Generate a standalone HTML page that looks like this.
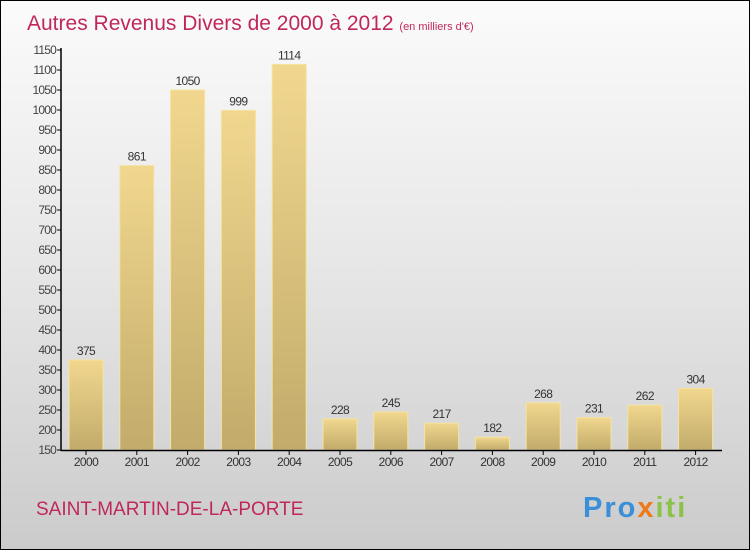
<!DOCTYPE html>
<html><head><meta charset="utf-8"><style>
html,body{margin:0;padding:0}
body{width:750px;height:550px;overflow:hidden;font-family:"Liberation Sans",sans-serif}
#frame{position:absolute;left:0;top:0;width:748px;height:548px;border:1px solid #000;background:linear-gradient(#fbfbfb,#e6e6e6 50%,#cbcbcb)}
</style></head><body>
<div id="frame">
<svg width="750" height="550" style="position:absolute;left:-1px;top:-1px">
<defs><linearGradient id="bg" x1="0" y1="0" x2="0" y2="1"><stop offset="0" stop-color="#f1d78e"/><stop offset="1" stop-color="#c2ab6b"/></linearGradient></defs>
<text x="27" y="30" font-size="21" fill="#c0285a">Autres Revenus Divers de 2000 à 2012 <tspan font-size="11">(en milliers d'€)</tspan></text>
<g id="yaxis"></g>
<g id="bars"></g>
<g id="xaxis"></g>
<text x="36" y="515" font-size="19" fill="#c0285a">SAINT-MARTIN-DE-LA-PORTE</text>
<text x="583" y="517" font-size="29" font-weight="bold" letter-spacing="2"><tspan fill="#3a8fd8">Pro</tspan><tspan fill="#f07a1a">x</tspan><tspan fill="#8bc34a">iti</tspan></text>
</svg></div>
<script>
const years=["2000","2001","2002","2003","2004","2005","2006","2007","2008","2009","2010","2011","2012"];
const values=[375,861,1050,999,1114,228,245,217,182,268,231,262,304];
const yTicks=[150,200,250,300,350,400,450,500,550,600,650,700,750,800,850,900,950,1000,1050,1100,1150];
const NS="http://www.w3.org/2000/svg";
function y(v){return 450-(v-150)*0.4;}
function x(i){return 86+i*50.8;}
function mk(t,a,p){const e=document.createElementNS(NS,t);for(const k in a)e.setAttribute(k,a[k]);p.appendChild(e);return e;}
const ya=document.getElementById('yaxis'),ba=document.getElementById('bars'),xa=document.getElementById('xaxis');
mk('line',{x1:61,y1:48,x2:61,y2:451,stroke:'#000','stroke-width':1.5},ya);
yTicks.forEach(t=>{
 const l=mk('line',{x1:57,x2:61,y1:y(t),y2:y(t),stroke:'#000'},ya);
 
 
 const tx=mk('text',{x:56,y:y(t)+4,'text-anchor':'end','font-size':12,fill:'#444','letter-spacing':'-0.8'},ya);
 tx.textContent=t;
 
 
});
values.forEach((v,i)=>{
 const r=mk('rect',{x:x(i)-17,y:y(v),width:34,height:450-y(v),fill:'url(#bg)',stroke:'#f5e3a0','stroke-width':1},ba);
 
 
 const t=mk('text',{x:x(i),y:y(v)-5,'text-anchor':'middle','font-size':12,fill:'#333','letter-spacing':'-0.6'},ba);
 t.textContent=v;
 
 
});
mk('line',{x1:61,y1:450.5,x2:722,y2:450.5,stroke:'#000','stroke-width':1.5},xa);
years.forEach((yr,i)=>{
 mk('line',{x1:x(i),x2:x(i),y1:450,y2:455,stroke:'#000'},xa);
 const t=mk('text',{x:x(i),y:466,'text-anchor':'middle','font-size':12,fill:'#333','letter-spacing':'-0.6'},xa);
 t.textContent=yr;
 
 
});
</script>
</body></html>
